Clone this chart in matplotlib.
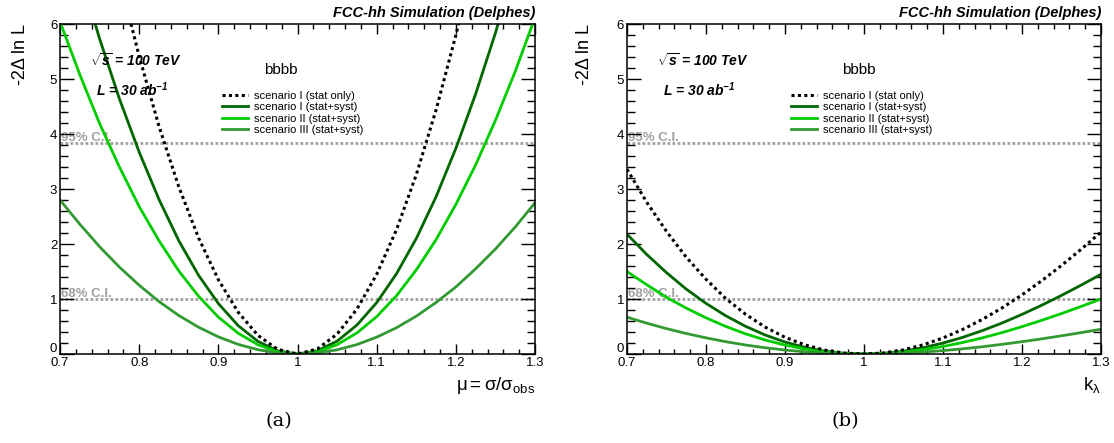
import numpy as np
import matplotlib
matplotlib.use("Agg")
import matplotlib.pyplot as plt
import matplotlib.transforms as mtransforms
from matplotlib.lines import Line2D
from matplotlib.ticker import MultipleLocator

plt.rcParams['font.family'] = ['Liberation Sans', 'DejaVu Sans']
plt.rcParams['mathtext.fontset'] = 'custom'
plt.rcParams['mathtext.rm'] = 'Liberation Sans'
plt.rcParams['mathtext.it'] = 'Liberation Sans:italic'
plt.rcParams['mathtext.bf'] = 'Liberation Sans:bold:italic'

# scan points (same grid for every curve)
x_scan = [0.700, 0.725, 0.750, 0.775, 0.800, 0.825, 0.850, 0.875, 0.900,
          0.925, 0.950, 0.975, 1.000, 1.025, 1.050, 1.075, 1.100, 1.125,
          1.150, 1.175, 1.200, 1.225, 1.250, 1.275, 1.300]

# panel (a): mu = sigma / sigma_obs
mu_stat_only = [12.16, 10.22, 8.45, 6.84, 5.41, 4.14, 3.04, 2.11, 1.35, 0.76,
                0.338, 0.084, 0.0, 0.091, 0.362, 0.815, 1.45, 2.26, 3.26,
                4.44, 5.80, 7.34, 9.06, 10.96, 13.04]
mu_scen1 = [8.26, 6.94, 5.73, 4.64, 3.67, 2.81, 2.06, 1.43, 0.917, 0.516,
            0.229, 0.057, 0.0, 0.058, 0.234, 0.526, 0.935, 1.46, 2.10, 2.86,
            3.74, 4.73, 5.84, 7.07, 8.41]
mu_scen2 = [6.04, 5.08, 4.19, 3.40, 2.68, 2.06, 1.51, 1.05, 0.671, 0.378,
            0.168, 0.042, 0.0, 0.043, 0.170, 0.383, 0.680, 1.06, 1.53, 2.08,
            2.72, 3.44, 4.25, 5.14, 6.12]
mu_scen3 = [2.80, 2.36, 1.95, 1.58, 1.25, 0.954, 0.70, 0.487, 0.312, 0.175,
            0.078, 0.019, 0.0, 0.019, 0.076, 0.172, 0.306, 0.478, 0.688,
            0.937, 1.22, 1.55, 1.91, 2.31, 2.75]

# panel (b): k_lambda
kl_stat_only = [3.36, 2.76, 2.23, 1.76, 1.36, 1.01, 0.724, 0.489, 0.304,
                0.166, 0.072, 0.017, 0.0, 0.019, 0.076, 0.167, 0.291, 0.447,
                0.630, 0.840, 1.075, 1.332, 1.609, 1.905, 2.216]
kl_scen1 = [2.18, 1.81, 1.48, 1.18, 0.921, 0.696, 0.504, 0.345, 0.218, 0.121,
            0.053, 0.013, 0.0, 0.013, 0.052, 0.114, 0.199, 0.303, 0.426,
            0.565, 0.720, 0.887, 1.065, 1.253, 1.449]
kl_scen2 = [1.50, 1.26, 1.03, 0.835, 0.658, 0.502, 0.367, 0.254, 0.162, 0.091,
            0.040, 0.010, 0.0, 0.009, 0.036, 0.079, 0.137, 0.209, 0.294,
            0.390, 0.497, 0.612, 0.735, 0.865, 1.00]
kl_scen3 = [0.67, 0.561, 0.462, 0.373, 0.294, 0.224, 0.164, 0.114, 0.072,
            0.041, 0.018, 0.004, 0.0, 0.004, 0.016, 0.036, 0.062, 0.094,
            0.132, 0.176, 0.224, 0.275, 0.331, 0.389, 0.45]

labels = ["scenario I (stat only)", "scenario I (stat+syst)",
          "scenario II (stat+syst)", "scenario III (stat+syst)"]
ci_levels = [1.0, 3.84]
ci_labels = ["68% C.I.", "95% C.I."]

colors = ["black", "#006600", "#00cc00", "#339933"]
GREY = "#a0a0a0"
DOTS = (0, (1.0, 1.1))


def draw_panel(fig, rect, curves, xlabel, tag, ylab_x, legend_x, bbbb_x):
    ax = fig.add_axes(rect)

    for level, text in zip(ci_levels, ci_labels):
        ax.plot([0.7, 1.3], [level, level], color=GREY, lw=2.0,
                ls=(0, (1.0, 0.8)), zorder=1)
        ax.text(0.7015, level - 0.02, text, color=GREY, fontsize=9.5,
                fontweight="bold", ha="left", va="bottom", zorder=1)

    handles = []
    for i, (ys, c) in enumerate(zip(curves, colors)):
        if i == 0:
            ax.plot(x_scan, ys, color=c, lw=2.2, ls=DOTS, zorder=3)
            handles.append(Line2D([], [], color=c, lw=2.2, ls=DOTS))
        else:
            ax.plot(x_scan, ys, color=c, lw=2.0, zorder=2)
            handles.append(Line2D([], [], color=c, lw=2.0))

    ax.set_xlim(0.7, 1.3)
    ax.set_ylim(0, 6)

    ax.xaxis.set_major_locator(MultipleLocator(0.1))
    ax.xaxis.set_minor_locator(MultipleLocator(0.02))
    ax.yaxis.set_major_locator(MultipleLocator(1))
    ax.yaxis.set_minor_locator(MultipleLocator(0.2))
    ax.tick_params(which="both", direction="in", top=True, right=True,
                   labelsize=9.5, width=1.0)
    ax.tick_params(axis="x", which="major", length=7, pad=2)
    ax.tick_params(axis="x", which="minor", length=3.6)
    ax.tick_params(axis="y", which="major", length=10, pad=2)
    ax.tick_params(axis="y", which="minor", length=5.5)
    ax.set_xticks([0.7, 0.8, 0.9, 1.0, 1.1, 1.2, 1.3])
    ax.set_xticklabels(["0.7", "0.8", "0.9", "1", "1.1", "1.2", "1.3"])
    ax.set_yticks(range(7))
    ax.set_yticklabels([str(v) for v in range(7)])
    # lift the "0" label a little so it does not sit on top of "0.7"
    zero_lbl = ax.get_yticklabels()[0]
    zero_lbl.set_transform(zero_lbl.get_transform() + mtransforms.ScaledTranslation(
        0, 5 / 72, fig.dpi_scale_trans))
    for sp in ax.spines.values():
        sp.set_linewidth(1.1)

    ax.text(1.0, 1.012, "FCC-hh Simulation (Delphes)", transform=ax.transAxes,
            ha="right", va="bottom", fontsize=10.5, fontweight="bold",
            style="italic")
    ax.text(0.063, 0.89, r"$\mathbf{\sqrt{s}}$ = 100 TeV",
            transform=ax.transAxes, ha="left", va="center", fontsize=10,
            fontweight="bold", style="italic")
    ax.text(0.075, 0.80, r"L = 30 ab$^{\mathbf{-1}}$", transform=ax.transAxes,
            ha="left", va="center", fontsize=10, fontweight="bold",
            style="italic")
    ax.text(bbbb_x, 0.86, "bbbb", transform=ax.transAxes,
            ha="center", va="center", fontsize=11)

    ax.legend(handles, labels, loc="upper left",
              bbox_to_anchor=(legend_x, 0.797), frameon=False,
              fontsize=8, handlelength=2.3, handletextpad=0.6,
              labelspacing=0.12, borderpad=0, borderaxespad=0)

    ax.text(1.0, -0.065, xlabel, transform=ax.transAxes, ha="right",
            va="top", fontsize=13.5)
    fig.text(ylab_x, 0.945, "-2\u0394 ln L", rotation=90, ha="center",
             va="top", fontsize=13)
    fig.text(rect[0] + rect[2] * 0.46, 0.05, tag, ha="center", va="center",
             fontsize=14, family="DejaVu Serif")
    return ax


fig = plt.figure(figsize=(11.14, 4.43), dpi=100)

draw_panel(fig, [0.0539, 0.2009, 0.4264, 0.7449],
           [mu_stat_only, mu_scen1, mu_scen2, mu_scen3],
           r"$\mathrm{\mu{=}\sigma/\sigma_{obs}}$", "(a)", 0.018, 0.341, 0.465)
draw_panel(fig, [0.5628, 0.2009, 0.4255, 0.7449],
           [kl_stat_only, kl_scen1, kl_scen2, kl_scen3],
           r"$\mathrm{k_{\lambda}}$", "(b)", 0.525, 0.346, 0.49)

fig.savefig("out.png", dpi=100)
